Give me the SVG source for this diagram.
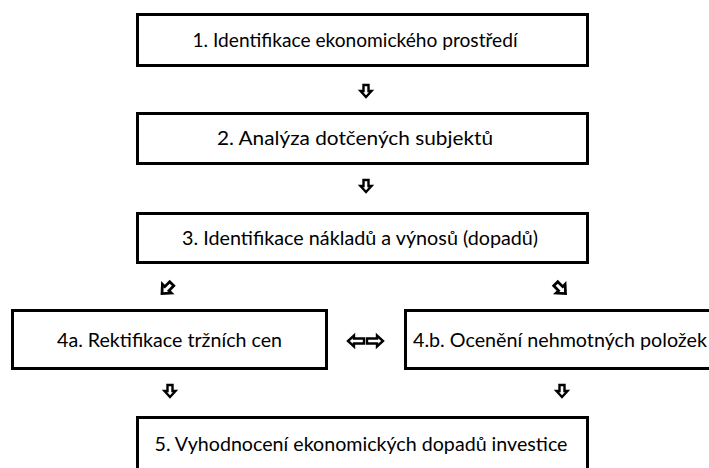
<svg xmlns="http://www.w3.org/2000/svg" width="709" height="468" viewBox="0 0 709 468">
  <style>
    .box { fill: #ffffff; stroke: #000000; stroke-width: 3; }
    .label { font-family: Lato, "Open Sans", "Liberation Sans", sans-serif; font-size: 19.5px; fill: #000000; text-anchor: middle; }
    .arrow { fill: #ffffff; stroke: #000000; stroke-width: 2.4; stroke-linejoin: miter; }
  </style>
  <defs>
    <!-- hollow block arrow pointing down, tip at (0,12) -->
    <path id="down" class="arrow" d="M -2.5 0 L 2.5 0 L 2.5 6 L 5.5 6 L 0 12 L -5.5 6 L -2.5 6 Z"/>
    <!-- hollow block arrow pointing right, tip at (16,0) -->
    <path id="right" class="arrow" d="M 0 -2.5 L 10 -2.5 L 10 -5.5 L 16 0 L 10 5.5 L 10 2.5 L 0 2.5 Z"/>
  </defs>
  <rect width="709" height="468" fill="#ffffff"/>

  <g id="node1">
    <rect class="box" x="137.5" y="14.5" width="450" height="51"/>
    <text class="label" x="355" y="47" textLength="325" lengthAdjust="spacingAndGlyphs">1. Identifikace ekonomického prostředí</text>
  </g>
  <g id="node2">
    <rect class="box" x="137.5" y="113.5" width="450" height="50"/>
    <text class="label" x="355" y="145" textLength="276" lengthAdjust="spacingAndGlyphs">2. Analýza dotčených subjektů</text>
  </g>
  <g id="node3">
    <rect class="box" x="137.5" y="213.5" width="450" height="49"/>
    <text class="label" x="360" y="245" textLength="356" lengthAdjust="spacingAndGlyphs">3. Identifikace nákladů a výnosů (dopadů)</text>
  </g>
  <g id="node4a">
    <rect class="box" x="12.5" y="310.5" width="314" height="58"/>
    <text class="label" x="169.5" y="346.5" textLength="225" lengthAdjust="spacingAndGlyphs">4a. Rektifikace tržních cen</text>
  </g>
  <g id="node4b">
    <rect class="box" x="405.5" y="310.5" width="320" height="58"/>
    <text class="label" x="560" y="346.5" textLength="294" lengthAdjust="spacingAndGlyphs">4.b. Ocenění nehmotných položek</text>
  </g>
  <g id="node5">
    <rect class="box" x="137.5" y="417.5" width="450" height="60"/>
    <text class="label" x="361" y="450.5" textLength="413" lengthAdjust="spacingAndGlyphs">5. Vyhodnocení ekonomických dopadů investice</text>
  </g>

  <g id="connectors">
    <use href="#down" transform="translate(366,85)"/>
    <use href="#down" transform="translate(366,180)"/>
    <use href="#down" transform="translate(167.5,282) rotate(45,0,6) scale(1.15)"/>
    <use href="#down" transform="translate(560,282) rotate(-45,0,6) scale(1.15)"/>
    <use href="#right" transform="translate(364,341) rotate(180)"/>
    <use href="#right" transform="translate(367,341)"/>
    <use href="#down" transform="translate(170,385)"/>
    <use href="#down" transform="translate(562,385)"/>
  </g>
</svg>
